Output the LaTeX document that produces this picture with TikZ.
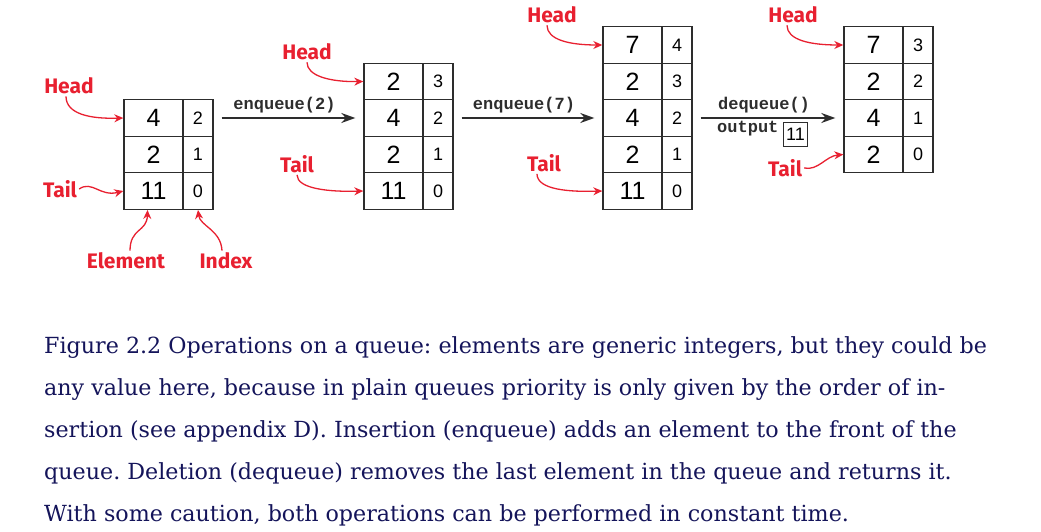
\documentclass[tikz,border=0pt]{standalone}
\usepackage{fontspec}
\usetikzlibrary{arrows.meta}
\newfontfamily\redfont{Fira Sans}
\newfontfamily\numfont{Liberation Sans}
\newfontfamily\opmono{Liberation Mono}
\newfontfamily\capfont{DejaVu Serif}
\definecolor{hred}{RGB}{232,32,48}
\definecolor{gline}{RGB}{45,45,45}
\definecolor{capblue}{RGB}{20,20,90}
\frenchspacing
\newcommand\qgrid[4]{%
  \foreach \e/\ix [count=\k] in {#4} {
    \node[cellE] (#1e\k) at ({#2+29.5},{#3+(\k-0.5)*36.5}) {\e};
    \node[cellI] (#1i\k) at ({#2+59+15},{#3+(\k-0.5)*36.5}) {\ix};
  }}
\begin{document}
\begin{tikzpicture}[x=1pt,y=-1pt,
  cellE/.style={draw=gline, line width=1.4pt, minimum width=59pt, minimum height=36.5pt, inner sep=0pt, font=\numfont\fontsize{25}{25}\selectfont},
  cellI/.style={draw=gline, line width=1.4pt, minimum width=30pt, minimum height=36.5pt, inner sep=0pt, font=\numfont\fontsize{18}{18}\selectfont},
  lbl/.style={text=hred, font=\redfont\bfseries\fontsize{21}{21}\selectfont, inner sep=2pt},
  redarr/.style={draw=hred, line width=1.3pt, -{Stealth[length=9pt,width=8pt]}},
  oparr/.style={draw=gline, line width=1.4pt, -{Stealth[length=14pt,width=10pt]}},
  oplbl/.style={text=gline, font=\opmono\bfseries\fontsize{17}{17}\selectfont, inner sep=0pt},
  outbox/.style={draw=gline, line width=1.2pt, minimum size=24pt, inner sep=0pt, font=\numfont\fontsize{18}{18}\selectfont},
  captxt/.style={text=capblue, font=\capfont\fontsize{22.2}{42}\selectfont, inner sep=0pt, anchor=base west}
]
\useasboundingbox (0,0) rectangle (1041,532);
% grids
\qgrid{a}{124}{99.75}{4/2,2/1,11/0}
\qgrid{b}{364}{63.25}{2/3,4/2,2/1,11/0}
\qgrid{c}{603}{26.75}{7/4,2/3,4/2,2/1,11/0}
\qgrid{d}{844}{26.75}{7/3,2/2,4/1,2/0}
% operation arrows
\draw[oparr] ([xshift=8pt]ai1.east) -- node[oplbl, above=4pt, xshift=-4pt] {enqueue(2)} ([xshift=-8pt]be2.west);
\draw[oparr] ([xshift=8pt]bi2.east) -- node[oplbl, above=4pt, xshift=-4pt] {enqueue(7)} ([xshift=-8pt]ce3.west);
\draw[oparr] ([xshift=8pt]ci3.east) -- node[oplbl, above=4pt, xshift=-4pt] {dequeue()} ([xshift=-8pt]de3.west);
\node[oplbl, anchor=north west] (out) at (717,121) {output};
\node[outbox] (o11) at (795.5,134.5) {11};
% red labels
\node[lbl] (h1) at (69,86) {Head};
\node[lbl] (t1) at (60,189) {Tail};
\node[lbl] (el) at (126,261) {Element};
\node[lbl] (ix) at (226,261) {Index};
\node[lbl] (h2) at (307,52) {Head};
\node[lbl] (t2) at (297,164) {Tail};
\node[lbl] (h3) at (552,15) {Head};
\node[lbl] (t3) at (544,163) {Tail};
\node[lbl] (h4) at (793,15) {Head};
\node[lbl] (t4) at (785,168) {Tail};
% red arrows
\draw[redarr] ([xshift=-3pt]h1.south) .. controls (66,114) and (90,119) .. (ae1.west);
\draw[redarr] (t1.east) .. controls (92,180) and (100,197) .. (ae3.west);
\draw[redarr] ([xshift=4pt]el.north) .. controls (130,228) and (147,232) .. ([xshift=-6pt]ae3.south);
\draw[redarr] ([xshift=-4pt]ix.north) .. controls (221,230) and (200,226) .. (ai3.south);
\draw[redarr] (h2.south) .. controls (307,76) and (330,82) .. (be1.west);
\draw[redarr] (t2.south) .. controls (297,189) and (330,192) .. (be4.west);
\draw[redarr] ([xshift=-5pt]h3.south) .. controls (547,40) and (570,45) .. (ce1.west);
\draw[redarr] ([xshift=-7pt]t3.south) .. controls (537,190) and (570,192) .. (ce5.west);
\draw[redarr] ([xshift=-6pt]h4.south) .. controls (787,40) and (810,45) .. (de1.west);
\draw[redarr] (t4.east) .. controls (818,171) and (826,156) .. (de4.west);
% caption
\node[captxt] (c1) at (44,353) {Figure 2.2 Operations on a queue: elements are generic integers, but they could be};
\node[captxt] (c2) at (44,395) {any value here, because in plain queues priority is only given by the order of in-};
\node[captxt] (c3) at (44,437) {sertion (see appendix D). Insertion (enqueue) adds an element to the front of the};
\node[captxt] (c4) at (44,479) {queue. Deletion (dequeue) removes the last element in the queue and returns it.};
\node[captxt] (c5) at (44,521) {With some caution, both operations can be performed in constant time.};
\end{tikzpicture}
\end{document}
